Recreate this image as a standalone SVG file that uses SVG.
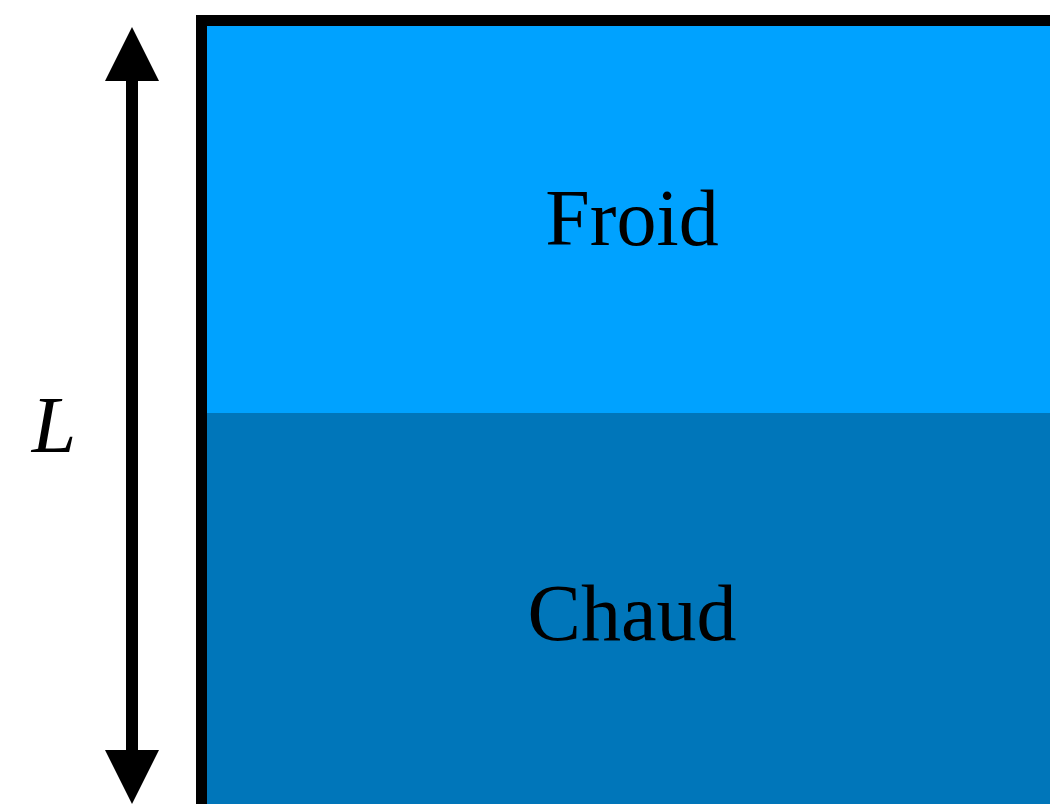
<svg xmlns="http://www.w3.org/2000/svg" width="1050" height="804" viewBox="0 0 1050 804">
<style>
.lbl{font-family:"Liberation Serif","Times New Roman",serif;font-size:80px;fill:#000;text-anchor:middle}
</style>
<rect width="1050" height="804" fill="#fff"/>
<g id="froid">
<rect x="207" y="26" width="843" height="387" fill="#00A2FF"/>
<text class="lbl" x="632" y="245">Froid</text>
</g>
<g id="chaud">
<rect x="207" y="413" width="843" height="391" fill="#0076BA"/>
<text class="lbl" x="632" y="640">Chaud</text>
</g>
<g id="border">
<path d="M201.5 810 V20.5 H1060" fill="none" stroke="#000" stroke-width="11"/>
</g>
<g id="connectors">
<rect x="126" y="78" width="12" height="676" fill="#000"/>
<polygon points="132,27 159,81 105,81" fill="#000"/>
<polygon points="132,804 159,750 105,750" fill="#000"/>
</g>
<g id="label-L">
<text class="lbl" x="54" y="452" font-style="italic">L</text>
</g>
</svg>
